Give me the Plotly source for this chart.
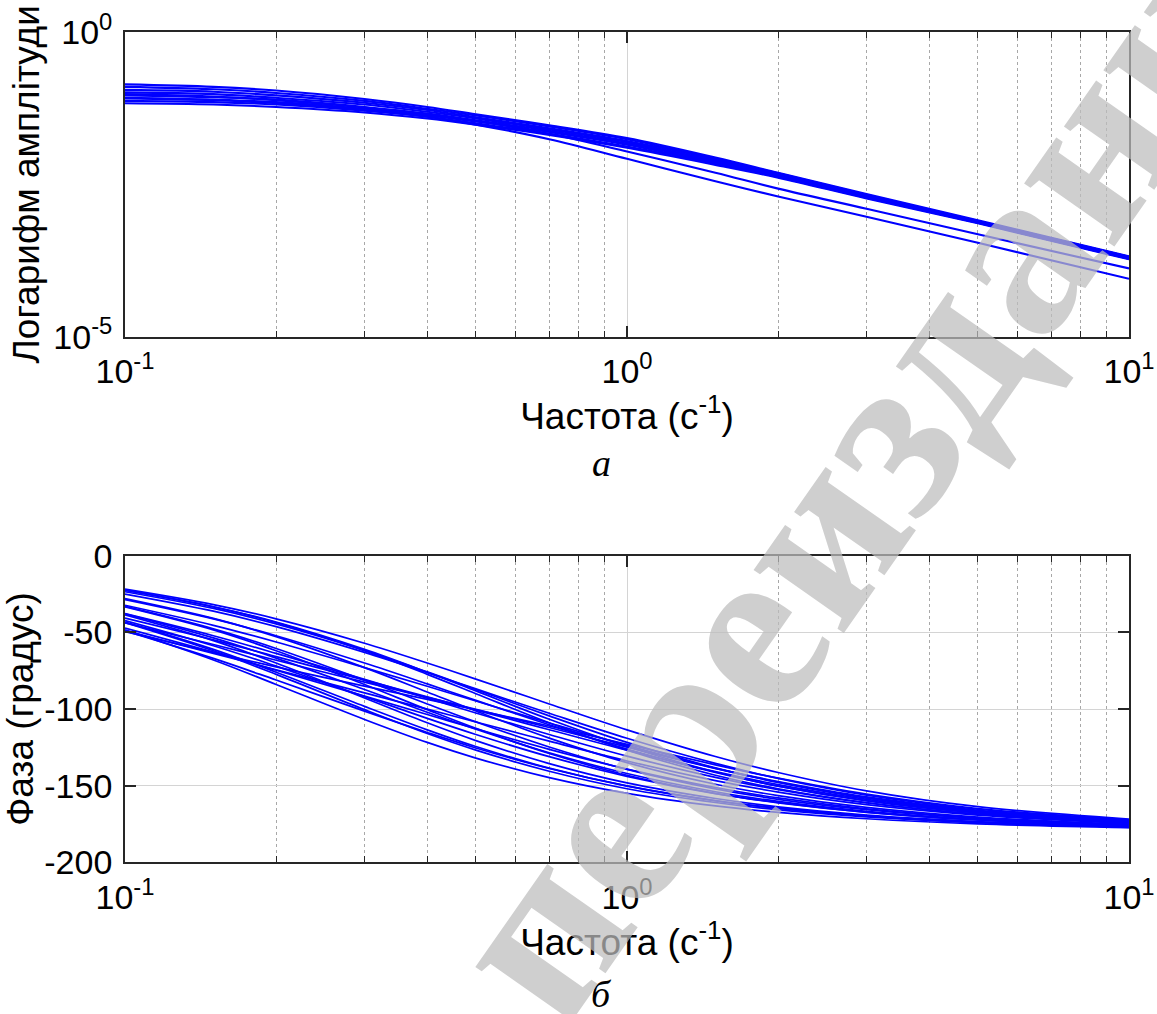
import plotly.graph_objects as go

# ---------------- data ----------------
FREQ = [0.1, 0.15, 0.2, 0.3, 0.4, 0.5, 0.7, 1.0, 1.5, 2.0, 3.0, 5.0, 10.0]

# log10 of amplitude for each curve (upper panel)
AMP_LOG10 = [
    [-0.86, -0.90, -0.96, -1.10, -1.23, -1.35, -1.53, -1.74, -2.06, -2.31, -2.66, -3.09, -3.68],
    [-0.90, -0.94, -1.00, -1.13, -1.26, -1.37, -1.55, -1.76, -2.08, -2.32, -2.67, -3.10, -3.69],
    [-0.95, -0.98, -1.04, -1.16, -1.28, -1.40, -1.58, -1.79, -2.09, -2.33, -2.68, -3.10, -3.69],
    [-0.99, -1.02, -1.08, -1.19, -1.31, -1.42, -1.60, -1.81, -2.11, -2.34, -2.69, -3.11, -3.70],
    [-1.04, -1.07, -1.11, -1.23, -1.34, -1.45, -1.62, -1.83, -2.13, -2.36, -2.70, -3.12, -3.71],
    [-1.08, -1.11, -1.15, -1.26, -1.37, -1.47, -1.64, -1.85, -2.15, -2.37, -2.71, -3.13, -3.72],
    [-1.13, -1.15, -1.19, -1.29, -1.39, -1.50, -1.67, -1.88, -2.16, -2.38, -2.72, -3.13, -3.72],
    [-1.17, -1.19, -1.23, -1.32, -1.42, -1.52, -1.69, -1.90, -2.18, -2.39, -2.73, -3.14, -3.73],
    [-1.02, -1.06, -1.12, -1.24, -1.35, -1.46, -1.67, -1.96, -2.31, -2.57, -2.90, -3.32, -3.88],
    [-1.09, -1.12, -1.17, -1.28, -1.39, -1.52, -1.76, -2.08, -2.45, -2.70, -3.03, -3.46, -4.05],
]

# phase in degrees for each curve (lower panel)
PHASE = [
    [-21.8, -31.9, -41.2, -57.1, -70.0, -80.5, -96.7, -113.6, -131.0, -141.4, -153.4, -163.7, -171.8],
    [-23.5, -34.4, -44.5, -61.8, -75.8, -87.3, -104.5, -121.8, -138.4, -147.9, -158.2, -166.7, -173.3],
    [-25.0, -36.2, -46.3, -63.1, -76.3, -86.9, -102.8, -119.1, -135.5, -145.3, -156.2, -165.4, -172.7],
    [-22.5, -33.3, -43.3, -61.1, -76.0, -88.2, -106.7, -124.5, -141.1, -150.3, -159.9, -167.8, -173.9],
    [-28.6, -41.2, -52.2, -70.0, -83.6, -94.4, -110.3, -126.2, -141.4, -150.3, -159.7, -167.6, -173.8],
    [-28.0, -40.9, -52.8, -73.0, -88.9, -101.3, -119.0, -135.0, -149.1, -156.5, -164.2, -170.5, -175.2],
    [-32.3, -45.4, -56.3, -73.0, -85.2, -94.8, -109.1, -123.7, -138.7, -147.7, -157.8, -166.4, -173.2],
    [-22.6, -33.4, -43.6, -62.0, -77.4, -90.0, -109.0, -126.8, -143.2, -152.0, -161.0, -168.6, -174.2],
    [-33.1, -47.7, -60.5, -81.2, -96.7, -108.4, -124.8, -139.4, -152.1, -158.9, -165.7, -171.4, -175.7],
    [-37.8, -52.2, -63.7, -80.7, -93.0, -102.6, -116.6, -130.7, -144.6, -152.6, -161.3, -168.6, -174.2],
    [-33.4, -48.4, -62.0, -84.0, -100.4, -112.6, -129.0, -143.2, -155.0, -161.0, -167.4, -172.4, -176.2],
    [-37.9, -53.6, -66.8, -87.3, -102.1, -113.2, -128.6, -142.1, -154.0, -160.3, -166.7, -172.0, -176.0],
    [-40.7, -54.9, -65.8, -81.2, -92.1, -100.7, -113.5, -126.9, -140.9, -149.3, -158.9, -167.1, -173.5],
    [-38.6, -55.4, -70.0, -92.8, -109.0, -120.6, -135.6, -148.2, -158.4, -163.8, -169.2, -173.4, -176.8],
    [-42.3, -58.7, -72.0, -91.9, -106.1, -116.6, -131.1, -143.9, -155.3, -161.2, -167.3, -172.4, -176.1],
    [-43.6, -62.0, -77.4, -100.4, -116.0, -126.8, -140.6, -152.0, -161.0, -165.8, -170.4, -174.2, -177.2],
    [-47.2, -62.9, -74.7, -91.6, -103.6, -112.9, -126.3, -139.2, -151.2, -158.0, -165.1, -171.0, -175.5],
    [-48.8, -63.7, -74.4, -89.5, -100.1, -108.5, -121.0, -133.9, -146.7, -154.2, -162.4, -169.2, -174.6],
    [-48.4, -68.0, -84.0, -106.8, -121.8, -132.0, -144.8, -155.0, -163.2, -167.4, -171.6, -175.0, -177.4],
    [-49.0, -67.0, -81.1, -101.4, -115.3, -125.4, -138.8, -150.1, -159.7, -164.6, -169.7, -173.8, -176.9],
    [-43.3, -61.1, -76.0, -98.3, -113.6, -124.5, -138.6, -150.3, -159.9, -164.8, -169.9, -173.9, -177.0],
    [-49.6, -63.1, -72.5, -85.1, -93.7, -100.5, -111.1, -123.0, -136.4, -145.1, -155.5, -164.9, -172.3],
    [-43.8, -57.9, -68.2, -82.5, -92.4, -100.2, -112.1, -124.9, -138.7, -147.3, -157.3, -166.1, -173.0],
]

X_TICKVALS = [0.1, 1, 10]
X_TICKTEXT = ["10<sup>-1</sup>", "10<sup>0</sup>", "10<sup>1</sup>"]
X_MINOR = [0.2, 0.3, 0.4, 0.5, 0.6, 0.7, 0.8, 0.9, 2, 3, 4, 5, 6, 7, 8, 9]
AMP_TICKVALS = [1e-5, 1]
AMP_TICKTEXT = ["10<sup>-5</sup>", "10<sup>0</sup>"]
PH_TICKVALS = [0, -50, -100, -150, -200]
PH_TICKTEXT = ["0", "-50", "-100", "-150", "-200"]

X_TITLE = "Частота (с<sup>-1</sup>)"
AMP_TITLE = "Логарифм амплітуди"
PH_TITLE = "Фаза (градус)"
CAPTIONS = ["а", "б"]
WATERMARK = "переиздание"

# ---------------- styling ----------------
BLUE = "rgb(0,0,255)"
AX = "#262626"
FONT = "Liberation Sans, Arial, sans-serif"
SERIF = "Liberation Serif, Times New Roman, serif"
TICK_SIZE = 34
TITLE_SIZE = 37
W, H = 1157, 1014

fig = go.Figure()

for row in AMP_LOG10:
    fig.add_trace(go.Scatter(
        x=FREQ, y=[10 ** v for v in row], mode="lines",
        line=dict(color=BLUE, width=2.1, shape="spline", smoothing=1.0),
        xaxis="x", yaxis="y", showlegend=False, hoverinfo="skip"))

for row in PHASE:
    fig.add_trace(go.Scatter(
        x=FREQ, y=row, mode="lines",
        line=dict(color=BLUE, width=1.7, shape="spline", smoothing=1.0),
        xaxis="x2", yaxis="y2", showlegend=False, hoverinfo="skip"))

xdom = [125 / W, 1129 / W]
ydom_top = [1 - 336.7 / H, 1 - 32 / H]
ydom_bot = [1 - 862.3 / H, 1 - 555.7 / H]


def xaxis_common(anchor):
    return dict(
        type="log", range=[-1, 1], domain=xdom, anchor=anchor, automargin=False,
        tickmode="array", tickvals=X_TICKVALS, ticktext=X_TICKTEXT,
        ticks="inside", ticklen=11, tickwidth=1.5, tickcolor=AX,
        showline=True, linecolor=AX, linewidth=1.8, mirror="allticks",
        showgrid=True, gridcolor="#d4d4d4", gridwidth=1.2,
        zeroline=False,
        minor=dict(tickmode="array", tickvals=X_MINOR, ticks="inside", ticklen=6,
                   tickwidth=1.3, tickcolor=AX, showgrid=True,
                   gridcolor="#a8a8a8", griddash="dot", gridwidth=1),
        tickfont=dict(family=FONT, size=TICK_SIZE, color="black"),
        title=dict(text=X_TITLE, font=dict(family=FONT, size=TITLE_SIZE, color="black"),
                   standoff=0),
        ticklabelstandoff=4,
    )


fig.update_layout(
    template="none",
    width=W, height=H,
    margin=dict(l=0, r=0, t=0, b=0, autoexpand=False),
    paper_bgcolor="white", plot_bgcolor="white",
    showlegend=False,
    xaxis=xaxis_common("y"),
    yaxis=dict(
        type="log", range=[-5, 0], domain=ydom_top, anchor="x", automargin=False,
        tickmode="array", tickvals=AMP_TICKVALS, ticktext=AMP_TICKTEXT,
        ticks="inside", ticklen=11, tickwidth=1.5, tickcolor=AX,
        showline=True, linecolor=AX, linewidth=1.8, mirror="allticks",
        showgrid=False, zeroline=False,
        tickfont=dict(family=FONT, size=TICK_SIZE, color="black"),
        title=dict(text=AMP_TITLE, font=dict(family=FONT, size=TITLE_SIZE, color="black"),
                   standoff=2),
        ticklabelstandoff=4,
    ),
    xaxis2=xaxis_common("y2"),
    yaxis2=dict(
        range=[-200, 0], domain=ydom_bot, anchor="x2", automargin=False,
        tickmode="array", tickvals=PH_TICKVALS, ticktext=PH_TICKTEXT,
        ticks="inside", ticklen=11, tickwidth=1.5, tickcolor=AX,
        showline=True, linecolor=AX, linewidth=1.8, mirror="allticks",
        showgrid=True, gridcolor="#d4d4d4", gridwidth=1.2, zeroline=False,
        tickfont=dict(family=FONT, size=TICK_SIZE, color="black"),
        title=dict(text=PH_TITLE, font=dict(family=FONT, size=TITLE_SIZE, color="black"),
                   standoff=2),
        ticklabelstandoff=4,
    ),
)

fig.add_annotation(text=CAPTIONS[0], xref="paper", yref="paper",
                   x=601 / W, y=1 - 463 / H, showarrow=False,
                   font=dict(family=SERIF, size=38, color="black", style="italic"))
fig.add_annotation(text=CAPTIONS[1], xref="paper", yref="paper",
                   x=601 / W, y=1 - 994 / H, yanchor="middle", showarrow=False,
                   font=dict(family=SERIF, size=38, color="black", style="italic"))

# grey diagonal watermark over the plot
fig.add_annotation(text="<b>" + WATERMARK + "</b>", xref="paper", yref="paper",
                   x=880 / W, y=1 - 440 / H, xanchor="center", yanchor="middle",
                   showarrow=False, textangle=-55, opacity=0.72,
                   font=dict(family=SERIF, size=240, color="#bdbdbd"))

fig.write_html("out.html",
               config={"displayModeBar": False},
               post_script="document.body.style.margin='0px';"
                           "document.body.style.overflow='hidden';")
